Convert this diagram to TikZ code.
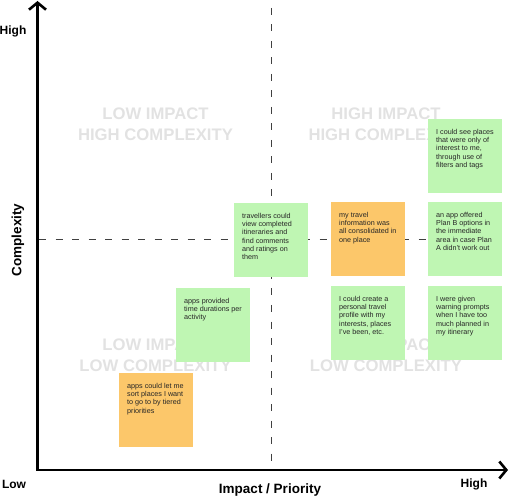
\documentclass[tikz,border=0pt]{standalone}
\usepackage{fontspec}
\setmainfont{Liberation Sans}
\usetikzlibrary{arrows.meta}
\definecolor{notegreen}{RGB}{191,246,179}
\definecolor{noteorange}{RGB}{252,199,106}
\definecolor{quadgrey}{RGB}{226,226,226}
\newcommand{\notetext}[1]{\parbox[t][74pt][t]{58pt}{\vspace*{9.2pt}\begin{tabular}{@{}l@{}}#1\end{tabular}}}

\begin{document}
\begin{tikzpicture}
  [x=1pt,y=-1pt,
   note/.style={anchor=north west,inner xsep=8pt,inner ysep=0pt,
     font=\fontsize{7.2}{8.3}\selectfont,text=black!85},
   quad/.style={text=quadgrey,font=\fontsize{16.7}{21}\selectfont\bfseries,align=center},
   axislabel/.style={font=\fontsize{13.5}{16}\selectfont\bfseries},
   endlabel/.style={font=\fontsize{12}{14}\selectfont\bfseries},
   guide/.style={black!75,line width=0.9pt,dash pattern=on 7pt off 9.5pt}]
  \useasboundingbox (0,0) rectangle (509,497);

  % quadrant names
  \foreach \i/\qx/\qy/\qa/\qb in {1/155.5/124.5/LOW/HIGH,2/386/124.5/HIGH/HIGH,
                                  3/155.5/355.5/LOW/LOW,4/386/355.5/HIGH/LOW}
    \node[quad] (q\i) at (\qx,\qy) {\qa{} IMPACT\\\qb{} COMPLEXITY};

  % split lines
  \coordinate (vtop) at (271,8);
  \coordinate (vbot) at (271,470);
  \coordinate (hleft) at (39,239);
  \coordinate (hright) at (502,239);
  \draw[guide] (vtop) -- (vbot);
  \draw[guide] (hleft) -- (hright);

  % sticky notes
  \node[note,fill=notegreen] (travellers) at (234,203) {\notetext{travellers could\\view completed\\itineraries and\\find comments\\and ratings on\\them}};
  \node[note,fill=noteorange] (consolidated) at (331,202) {\notetext{my travel\\information was\\all consolidated in\\one place}};
  \node[note,fill=notegreen] (filters) at (428,119) {\notetext{I could see places\\that were only of\\interest to me,\\through use of\\filters and tags}};
  \node[note,fill=notegreen] (planb) at (428,202) {\notetext{an app offered\\Plan B options in\\the immediate\\area in case Plan\\A didn’t work out}};
  \node[note,fill=notegreen] (profile) at (331,286) {\notetext{I could create a\\personal travel\\profile with my\\interests, places\\I’ve been, etc.}};
  \node[note,fill=notegreen] (warning) at (428,286) {\notetext{I were given\\warning prompts\\when I have too\\much planned in\\my itinerary}};
  \node[note,fill=notegreen] (durations) at (176,288) {\notetext{apps provided\\time durations per\\activity}};
  \node[note,fill=noteorange] (tiered) at (119,373) {\notetext{apps could let me\\sort places I want\\to go to by tiered\\priorities}};

  % axes
  \coordinate (ytip) at (37.5,1);
  \coordinate (origin) at (37.5,470);
  \coordinate (xtip) at (508,470);
  \draw[line width=2.6pt,line join=miter,
    {Straight Barb[length=7pt,width=17pt]}-{Straight Barb[length=7pt,width=17pt]}]
    (ytip) -- (origin) -- (xtip);

  \node[axislabel,rotate=90] (ylab) at (18,240) {Complexity};
  \node[axislabel] (xlab) at (270,490) {Impact / Priority};
  \node[endlabel] (yhigh) at (13,31) {High};
  \node[endlabel] (xlow) at (14,484) {Low};
  \node[endlabel] (xhigh) at (474,484) {High};
\end{tikzpicture}
\end{document}
